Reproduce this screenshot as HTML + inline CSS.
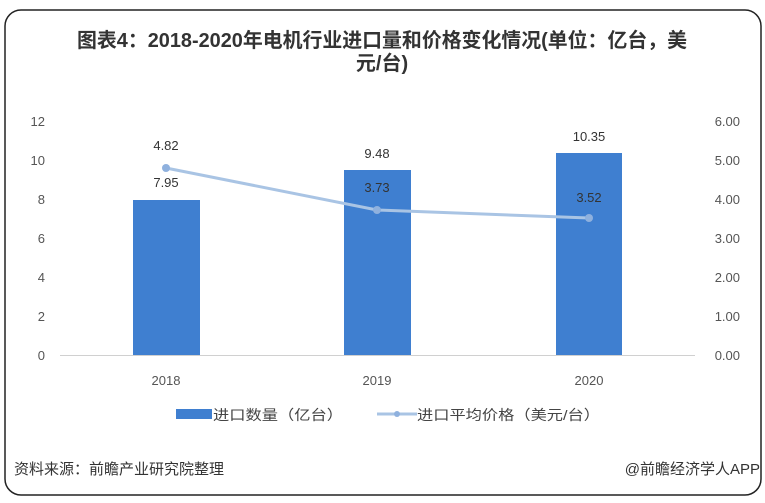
<!DOCTYPE html>
<html><head><meta charset="utf-8"><style>
body{margin:0;background:#fff;}
svg{display:block;font-family:"Liberation Sans","Noto Sans CJK SC",sans-serif;}
</style></head><body>
<svg width="765" height="503" viewBox="0 0 765 503">
<rect x="5" y="10" width="756" height="485" rx="16" fill="#fff" stroke="#222" stroke-width="1.5"/>
<text x="382" y="47" text-anchor="middle" font-size="20" font-weight="bold" fill="#333" textLength="610" lengthAdjust="spacingAndGlyphs">图表4：2018-2020年电机行业进口量和价格变化情况(单位：亿台，美</text>
<text x="382" y="70" text-anchor="middle" font-size="20" font-weight="bold" fill="#333">元/台)</text>
<g font-size="13" fill="#555">
<text x="45" y="126" text-anchor="end">12</text>
<text x="45" y="165" text-anchor="end">10</text>
<text x="45" y="204" text-anchor="end">8</text>
<text x="45" y="243" text-anchor="end">6</text>
<text x="45" y="282" text-anchor="end">4</text>
<text x="45" y="321" text-anchor="end">2</text>
<text x="45" y="360" text-anchor="end">0</text>
<text x="740" y="126" text-anchor="end">6.00</text>
<text x="740" y="165" text-anchor="end">5.00</text>
<text x="740" y="204" text-anchor="end">4.00</text>
<text x="740" y="243" text-anchor="end">3.00</text>
<text x="740" y="282" text-anchor="end">2.00</text>
<text x="740" y="321" text-anchor="end">1.00</text>
<text x="740" y="360" text-anchor="end">0.00</text>
<text x="166" y="385" text-anchor="middle">2018</text>
<text x="377" y="385" text-anchor="middle">2019</text>
<text x="589" y="385" text-anchor="middle">2020</text>
</g>
<line x1="60" y1="355.5" x2="695" y2="355.5" stroke="#d0d0d0"/>
<g fill="#3f7fd0">
<rect x="133" y="200" width="67" height="155"/>
<rect x="344" y="170" width="67" height="185"/>
<rect x="556" y="153" width="66" height="202"/>
</g>
<polyline points="166,168 377,210 589,218" fill="none" stroke="#a9c4e4" stroke-width="3"/>
<g fill="#8fb1de"><circle cx="166" cy="168" r="4"/><circle cx="377" cy="210" r="4"/><circle cx="589" cy="218" r="4"/></g>
<g font-size="13" fill="#333" text-anchor="middle">
<text x="166" y="150">4.82</text>
<text x="166" y="187">7.95</text>
<text x="377" y="158">9.48</text>
<text x="377" y="192">3.73</text>
<text x="589" y="141">10.35</text>
<text x="589" y="202">3.52</text>
</g>
<rect x="176" y="409" width="36" height="10" fill="#3f7fd0"/>
<text x="213" y="420" font-size="14" fill="#444" textLength="130" lengthAdjust="spacingAndGlyphs">进口数量（亿台）</text>
<line x1="377" y1="414" x2="417" y2="414" stroke="#a9c4e4" stroke-width="3"/>
<circle cx="397" cy="414" r="3" fill="#8fb1de"/>
<text x="417" y="420" font-size="14" fill="#444" textLength="183" lengthAdjust="spacingAndGlyphs">进口平均价格（美元/台）</text>
<text x="14" y="474" font-size="15" fill="#333">资料来源：前瞻产业研究院整理</text>
<text x="760" y="474" text-anchor="end" font-size="15" fill="#333">@前瞻经济学人APP</text>
</svg>
</body></html>
